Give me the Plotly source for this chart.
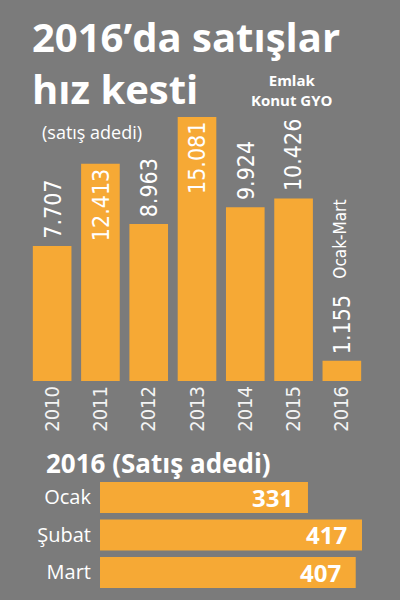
import plotly.graph_objects as go

years = ["2010", "2011", "2012", "2013", "2014", "2015", "2016"]
sales = [7707, 12413, 8963, 15081, 9924, 10426, 1155]
sales_labels = ["7.707", "12.413", "8.963", "15.081", "9.924", "10.426", "1.155"]
label_inside = [False, True, False, True, False, False, False]

months = ["Ocak", "Şubat", "Mart"]
month_sales = [331, 417, 407]

GRAY = "#7b7b7b"
ORANGE = "#f6a935"
NARROW = "Liberation Sans Narrow, DejaVu Sans Condensed, Arial Narrow, sans-serif"
SANS = "Open Sans, Noto Sans, sans-serif"

fig = go.Figure()

# yearly sales, vertical bars
fig.add_trace(go.Bar(
    x=years, y=sales, width=0.8,
    marker=dict(color=ORANGE, line=dict(width=0)),
    hoverinfo="skip", xaxis="x", yaxis="y",
))

# monthly sales 2016, horizontal bars
fig.add_trace(go.Bar(
    x=month_sales, y=months, orientation="h", width=0.83,
    marker=dict(color=ORANGE, line=dict(width=0)),
    hoverinfo="skip", xaxis="x2", yaxis="y2",
))

annotations = []
# year names look like numbers, so point at the category index instead
for i, (v, lab, inside) in enumerate(zip(sales, sales_labels, label_inside)):
    annotations.append(dict(
        x=i, y=v, xref="x", yref="y", text=lab, textangle=-90,
        showarrow=False, xanchor="center",
        yanchor="top" if inside else "bottom",
        yshift=-3 if inside else 5,
        font=dict(family=NARROW, size=23, color="white"),
    ))

for m, v in zip(months, month_sales):
    annotations.append(dict(
        x=v, y=m, xref="x2", yref="y2", text="<b>%d</b>" % v,
        showarrow=False, xanchor="right", xshift=-13,
        font=dict(family=SANS, size=24, color="white"),
    ))

annotations += [
    dict(x=0.075, y=0.94, xref="paper", yref="paper", xanchor="left", yanchor="middle",
         text="<b>2016’da satışlar</b>", showarrow=False,
         font=dict(family=SANS, size=40, color="white")),
    dict(x=0.075, y=0.853, xref="paper", yref="paper", xanchor="left", yanchor="middle",
         text="<b>hız kesti</b>", showarrow=False,
         font=dict(family=SANS, size=40, color="white")),
    dict(x=0.73, y=0.85, xref="paper", yref="paper", xanchor="center", yanchor="middle",
         text="<b>Emlak<br>Konut GYO</b>", showarrow=False,
         font=dict(family=SANS, size=15, color="white")),
    dict(x=0.1, y=0.78, xref="paper", yref="paper", xanchor="left", yanchor="middle",
         text="(satış adedi)", showarrow=False,
         font=dict(family=SANS, size=18, color="white")),
    dict(x=len(years) - 1, y=0.602, xref="x", yref="paper", xanchor="center", yanchor="middle",
         xshift=-2, text="Ocak-Mart", textangle=-90, showarrow=False,
         font=dict(family=NARROW, size=17, color="white")),
    dict(x=0.11, y=0.229, xref="paper", yref="paper", xanchor="left", yanchor="middle",
         text="<b>2016 (Satış adedi)</b>", showarrow=False,
         font=dict(family=SANS, size=26, color="white")),
]

fig.update_layout(
    width=400, height=600,
    margin=dict(l=0, r=0, t=0, b=0),
    paper_bgcolor=GRAY, plot_bgcolor=GRAY,
    showlegend=False,
    annotations=annotations,
    xaxis=dict(domain=[0.07, 0.915], type="category", range=[-0.5, 6.5],
               tickangle=-90, automargin=False,
               showgrid=False, zeroline=False, showline=False, ticks="",
               tickfont=dict(family=NARROW, size=20, color="#f4f4f4"),
               fixedrange=True),
    yaxis=dict(domain=[0.365, 0.805], range=[0, 15081], visible=False,
               automargin=False, fixedrange=True),
    xaxis2=dict(domain=[0.25, 0.905], range=[0, 417], visible=False,
                anchor="y2", automargin=False, fixedrange=True),
    yaxis2=dict(domain=[0.0146, 0.2021], range=[2.5, -0.5], type="category",
                anchor="x2", showgrid=False, zeroline=False, showline=False,
                ticks="", ticklabelstandoff=8, automargin=False,
                tickfont=dict(family=SANS, size=20, color="white"),
                fixedrange=True),
)

fig.write_html("out.html", config=dict(displayModeBar=False),
               post_script="document.body.style.margin='0px';")
